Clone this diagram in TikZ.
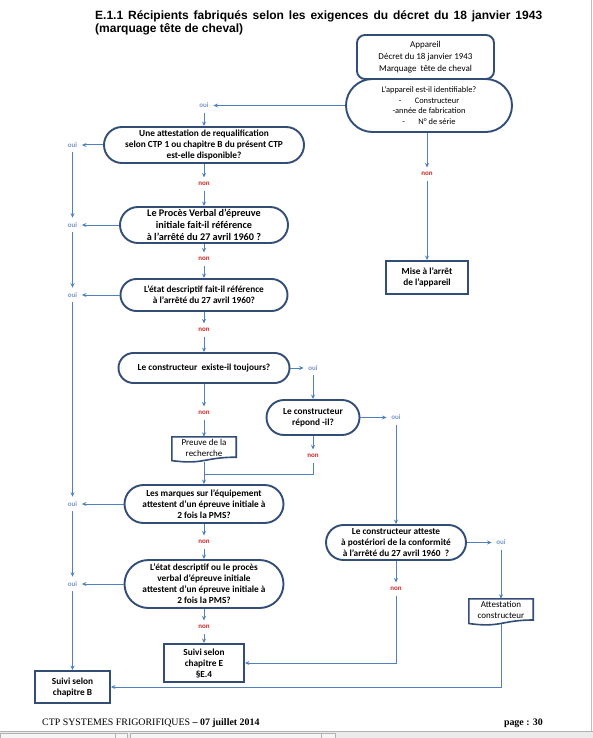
\documentclass[tikz,border=0pt]{standalone}
\usepackage{fontspec}
\setmainfont{Liberation Serif}
\newfontfamily\carlito{Carlito}
\newfontfamily\arialf{Liberation Sans}
\usetikzlibrary{arrows.meta}
\definecolor{bordc}{RGB}{50,78,120}
\definecolor{connc}{RGB}{79,129,189}
\definecolor{ouic}{RGB}{120,152,198}
\definecolor{nonc}{RGB}{205,40,40}
\newcommand\qfont{\carlito\bfseries\fontsize{9.3}{11}\selectfont}
\newcommand\qfontL{\carlito\bfseries\fontsize{10.2}{12}\selectfont}
\newcommand\rfont{\carlito\fontsize{9}{12}\selectfont}
\newcommand\idfont{\carlito\fontsize{8.4}{10.7}\selectfont}
\newcommand\dfont{\carlito\fontsize{9}{11}\selectfont}
\newcommand\lfont{\carlito\bfseries\fontsize{7}{7}\selectfont}
\tikzset{
  qn/.style={draw=bordc, line width=1.9pt, fill=white, align=center, inner sep=0pt, text=black, font=\qfont},
  boxn/.style={draw=bordc, line width=1.9pt, fill=white, align=center, inner sep=0pt, text=black, font=\qfont},
  docn/.style={align=center, inner sep=0pt, text=black, font=\dfont},
  docshape/.style={draw=bordc, line width=1.6pt},
  lbl/.style={inner sep=0.3pt, outer sep=4.5pt, font=\lfont},
  ouil/.style={lbl, text=ouic},
  nonl/.style={lbl, text=nonc},
  conn/.style={draw=connc, line width=1pt, -{Stealth[length=4.5pt,width=4pt]}},
  plainln/.style={draw=connc, line width=1pt},
}
\begin{document}
\begin{tikzpicture}[x=1pt,y=-1pt]
\useasboundingbox (0,0) rectangle (593,738);
\fill[white] (0,0) rectangle (593,738);
% page frame bits
\draw[black!25, line width=0.8pt] (591,0) -- (591,731);
\fill[black!8] (0,731) rectangle (593,738);
\draw[black!30, line width=0.5pt] (0,731) -- (593,731);
\draw[black!30, line width=0.5pt, fill=black!4] (0,733.5) rectangle (115,739);
\draw[black!30, line width=0.5pt, fill=black!4] (115,733.5) rectangle (127,739);
\draw[black!30, line width=0.5pt, fill=black!4] (130,733.5) rectangle (321,739);
\draw[black!30, line width=0.5pt, fill=black!4] (321,733.5) rectangle (335,739);

% title
\node[anchor=base west, inner sep=0, font=\arialf\bfseries\fontsize{12}{13}\selectfont] (title1) at (95,20)
  {\makebox[447pt][s]{E.1.1 Récipients fabriqués selon les exigences du décret du 18 janvier 1943}};
\node[anchor=base west, inner sep=0, font=\arialf\bfseries\fontsize{12}{13}\selectfont] (title2) at (95,33)
  {(marquage tête de cheval)};

% top boxes
\node[boxn, font=\rfont, minimum width=137pt, minimum height=44pt, rounded corners=8pt] (app) at (425.5,57)
  {Appareil\\Décret du 18 janvier 1943\\Marquage\ \ tête de cheval};
\node[qn, font=\idfont, minimum width=166pt, minimum height=53pt, rounded corners=26.5pt] (ident) at (429,105.5)
  {L’appareil est-il identifiable?\\-\hspace{1.6em}Constructeur\\-année de fabrication\\-\hspace{1.6em}N° de série};

% questions
\node[qn, minimum width=200pt, minimum height=36pt, rounded corners=18pt] (q1) at (204,145)
  {Une attestation de requalification\\selon CTP 1 ou chapitre B du présent CTP\\est-elle disponible?};
\node[qn, font=\qfontL, minimum width=168pt, minimum height=36pt, rounded corners=18pt] (q2) at (204,225)
  {Le Procès Verbal d’épreuve\\initiale fait-il référence\\à l’arrêté du 27 avril 1960 ?};
\node[qn, minimum width=167pt, minimum height=32pt, rounded corners=16pt] (q3) at (204,295)
  {L’état descriptif fait-il référence\\à l’arrêté du 27 avril 1960?};
\node[qn, minimum width=171pt, minimum height=30pt, rounded corners=15pt] (q4) at (204,368)
  {Le constructeur\ \ existe-il toujours?};
\node[qn, minimum width=93pt, minimum height=35pt, rounded corners=17.5pt] (q5) at (313,417.5)
  {Le constructeur\\répond -il?};
\node[qn, minimum width=159pt, minimum height=38pt, rounded corners=19pt] (q6) at (204,504)
  {Les marques sur l’équipement\\attestent d’un épreuve initiale à\\2 fois la PMS?};
\node[qn, minimum width=140pt, minimum height=35pt, rounded corners=17.5pt] (q7) at (396,542.5)
  {Le constructeur atteste\\à postériori de la conformité\\à l’arrêté du 27 avril 1960\ \ ?};
\node[qn, minimum width=159pt, minimum height=48pt, rounded corners=24pt] (q8) at (204,584)
  {L’état descriptif ou le procès\\verbal d’épreuve initiale\\attestent d’un épreuve initiale à\\2 fois la PMS?};

% rectangles
\node[boxn, minimum width=82pt, minimum height=33pt] (mise) at (427,277.5) {Mise à l’arrêt\\de l’appareil};
\node[boxn, minimum width=80pt, minimum height=38pt] (suiviE) at (204,663) {Suivi selon\\chapitre E\\§E.4};
\node[boxn, minimum width=75pt, minimum height=32pt] (suiviB) at (72.5,687) {Suivi selon\\chapitre B};

% documents (wavy bottom below the node's south side)
\node[docn, minimum width=64pt, minimum height=21pt] (preuve) at (204,447.5) {Preuve de la\\recherche};
\draw[docshape] (preuve.north west) -- (preuve.north east) -- ([yshift=1pt]preuve.south east)
  .. controls ([yshift=1pt]preuve.south) and ([yshift=-6.7pt]preuve.south) .. ([yshift=-2.4pt]preuve.south west) -- cycle;
\node[docn, minimum width=64pt, minimum height=21pt] (attest) at (501,609.5) {Attestation\\constructeur};
\draw[docshape] (attest.north west) -- (attest.north east) -- ([yshift=0.2pt]attest.south east)
  .. controls ([yshift=0.2pt]attest.south) and ([yshift=-7.8pt]attest.south) .. ([yshift=-3.3pt]attest.south west) -- cycle;

% labels
\node[ouil] (ouiA) at (204,105.5) {oui};
\node[nonl] (nonA) at (427,174) {non};
\node[ouil] (ouiB) at (72.5,145) {oui};
\node[nonl] (nonB) at (204,184) {non};
\node[ouil] (ouiC) at (72.5,225) {oui};
\node[nonl] (nonC) at (204,259) {non};
\node[ouil] (ouiD) at (72.5,295) {oui};
\node[nonl] (nonD) at (204,330) {non};
\node[ouil] (ouiE) at (313,368) {oui};
\node[nonl] (nonE) at (204,413) {non};
\node[ouil] (ouiF) at (396,417.5) {oui};
\node[nonl] (nonF) at (313,456) {non};
\node[ouil] (ouiG) at (72.5,504) {oui};
\node[nonl] (nonG) at (204,542) {non};
\node[ouil] (ouiH) at (72.5,584) {oui};
\node[nonl] (nonH) at (204,627) {non};
\node[ouil] (ouiI) at (501,542.5) {oui};
\node[nonl] (nonI) at (396,589) {non};
\coordinate (jn) at (204,474);

% connectors
\draw[conn] (ident) -- (ouiA);
\draw[conn] (ouiA) -- (q1);
\draw[conn] (ident.south -| nonA) -- (nonA);
\draw[conn] (nonA) -- (mise);
\draw[conn] (q1) -- (ouiB);
\draw[conn] (q1) -- (nonB);
\draw[conn] (nonB) -- (q2);
\draw[conn] (q2) -- (ouiC);
\draw[conn] (q2) -- (nonC);
\draw[conn] (nonC) -- (q3);
\draw[conn] (q3) -- (ouiD);
\draw[conn] (q3) -- (nonD);
\draw[conn] (nonD) -- (q4);
\draw[conn] (q4) -- (ouiE);
\draw[conn] (ouiE) -- (q5);
\draw[conn] (q4) -- (nonE);
\draw[conn] (nonE) -- (preuve);
\draw[conn] ([yshift=-3.5pt]preuve.south) -- (q6);
\draw[conn] (q5) -- (ouiF);
\draw[conn] (q5) -- (nonF);
\draw[plainln] (nonF) -- (nonF |- jn) -- (jn);
\draw[conn] (ouiF) -- (q7);
\draw[conn] (q7) -- (ouiI);
\draw[conn] (ouiI) -- (attest);
\draw[conn] (q7) -- (nonI);
\draw[conn] (nonI) |- (suiviE);
\draw[conn] ([yshift=-4pt]attest.south) |- (suiviB);
\draw[conn] (q6) -- (ouiG);
\draw[conn] (q6) -- (nonG);
\draw[conn] (nonG) -- (q8);
\draw[conn] (q8) -- (ouiH);
\draw[conn] (q8) -- (nonH);
\draw[conn] (nonH) -- (suiviE);
\draw[conn] (ouiB) -- (ouiC);
\draw[conn] (ouiC) -- (ouiD);
\draw[conn] (ouiD) -- (ouiG);
\draw[conn] (ouiG) -- (ouiH);
\draw[conn] (ouiH) -- (suiviB);

% footer
\node[anchor=base west, inner sep=0, font=\fontsize{9.9}{11}\selectfont] (foot) at (42,725)
  {CTP SYSTEMES FRIGORIFIQUES \textbf{– 07 juillet 2014}};
\node[anchor=base east, inner sep=0, font=\bfseries\fontsize{9.9}{11}\selectfont] (page) at (543,725) {page : 30};
\end{tikzpicture}
\end{document}
